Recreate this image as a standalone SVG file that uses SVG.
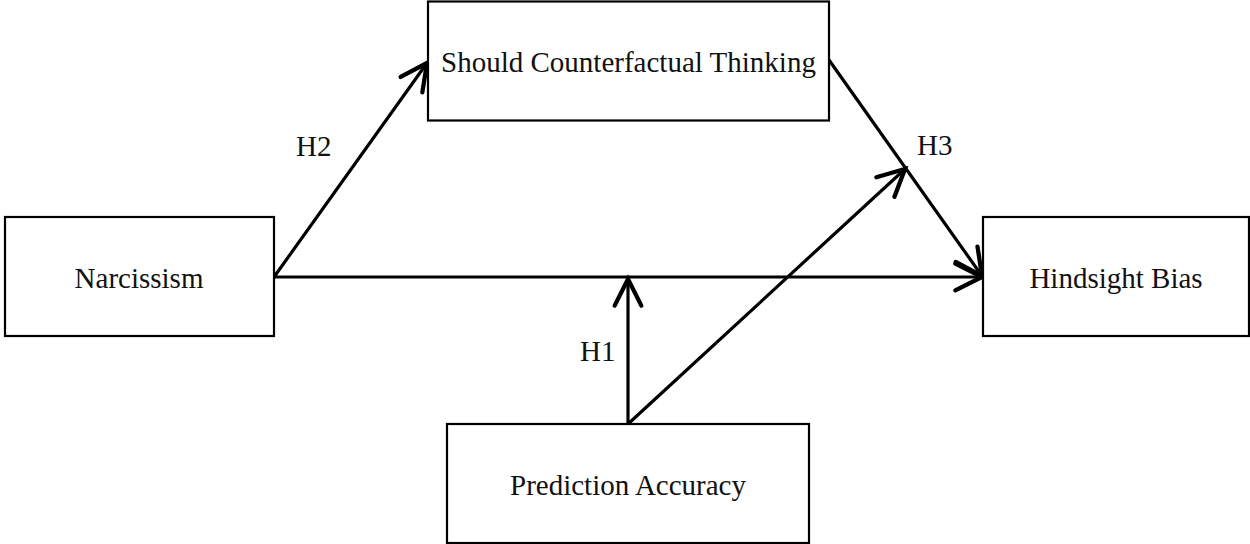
<svg xmlns="http://www.w3.org/2000/svg" width="1250" height="544" viewBox="0 0 1250 544">
<style>
.box{fill:#fff;stroke:#000;stroke-width:2.2}
.lbl{font-family:"Liberation Serif","Times New Roman",serif;font-size:29px;fill:#111}
.cn{fill:none;stroke:#000;stroke-width:3.2;stroke-linecap:round}
</style>
<defs>
<marker id="arr" markerUnits="userSpaceOnUse" markerWidth="40" markerHeight="40" refX="0" refY="0" viewBox="-25 -15 30 30" orient="auto" overflow="visible">
<path d="M-20,-10 L0,0 L-20,10" fill="none" stroke="#000" stroke-width="3.2" stroke-linecap="round" stroke-linejoin="miter"/>
</marker>
</defs>
<rect width="1250" height="544" fill="#fff"/>
<g id="connectors">
<line class="cn" x1="274" y1="277" x2="982" y2="277" marker-end="url(#arr)"/>
<line class="cn" x1="274" y1="277" x2="427" y2="63" marker-end="url(#arr)"/>
<line class="cn" x1="829" y1="60" x2="982" y2="276" marker-end="url(#arr)"/>
<line class="cn" x1="628" y1="424" x2="628" y2="279" marker-end="url(#arr)"/>
<line class="cn" x1="628" y1="424" x2="905" y2="169" marker-end="url(#arr)"/>
<text class="lbl" x="296" y="156">H2</text>
<text class="lbl" x="917" y="155">H3</text>
<text class="lbl" x="580" y="361">H1</text>
</g>
<g id="node-should">
<rect class="box" x="428" y="1.5" width="401" height="119"/>
<text class="lbl" x="628.5" y="72" text-anchor="middle">Should Counterfactual Thinking</text>
</g>
<g id="node-narcissism">
<rect class="box" x="5" y="217" width="269" height="119"/>
<text class="lbl" x="139" y="288" text-anchor="middle">Narcissism</text>
</g>
<g id="node-hindsight">
<rect class="box" x="983" y="217" width="266" height="119"/>
<text class="lbl" x="1116" y="288" text-anchor="middle">Hindsight Bias</text>
</g>
<g id="node-prediction">
<rect class="box" x="447" y="424" width="362" height="119"/>
<text class="lbl" x="628" y="495" text-anchor="middle">Prediction Accuracy</text>
</g>
</svg>
